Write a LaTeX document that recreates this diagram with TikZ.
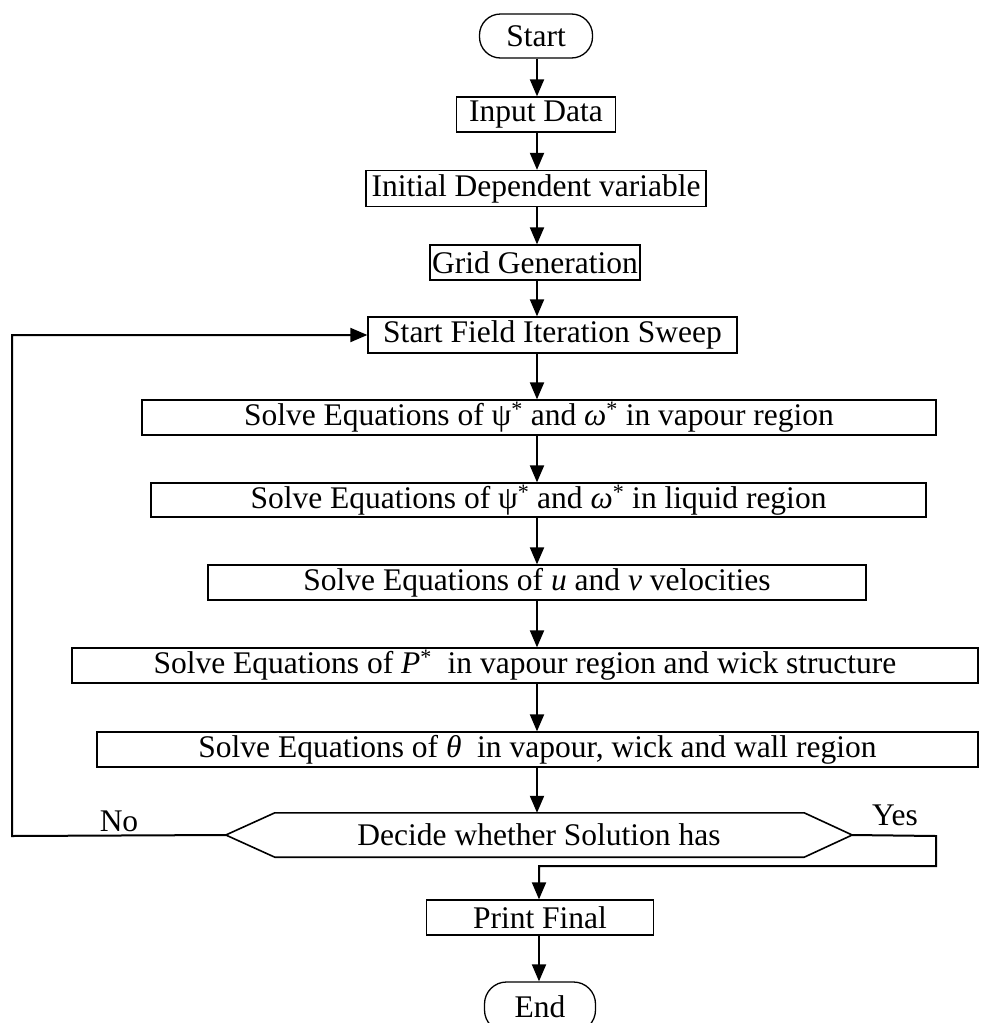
\documentclass[tikz,border=0pt]{standalone}
\usepackage{fontspec}
\setmainfont{Liberation Serif}
\usetikzlibrary{arrows.meta,calc}
\newcommand{\diagfont}{\fontsize{31.5}{36}\selectfont}
\begin{document}
\begin{tikzpicture}[x=1pt,y=-1pt,
  box/.style={draw,line width=1.3pt,inner sep=0pt,font=\diagfont},
  term/.style={box,rounded corners=21pt},
  lbl/.style={inner sep=0pt,font=\diagfont},
  arr/.style={line width=2pt,-{Triangle[length=17pt,width=14pt]}},
  ln/.style={line width=2pt}]
\useasboundingbox (0,0) rectangle (993,1023);
\coordinate (ax) at (537,0);
\node[term, minimum width=113pt, minimum height=44pt] (start) at (536,36) {Start};
\node[box, minimum width=159pt, minimum height=35pt] (input) at (536,114.5) {Input Data};
\node[box, minimum width=340pt, minimum height=36pt] (init) at (536,188.5) {Initial Dependent variable};
\node[box, minimum width=210pt, minimum height=35pt] (grid) at (535,262.5) {Grid Generation};
\node[box, minimum width=369pt, minimum height=36pt] (sweep) at (552.5,335) {Start Field Iteration Sweep};
\node[box, minimum width=794pt, minimum height=35pt] (vap) at (539,417.5) {Solve Equations of ψ\textsuperscript{*} and \textit{ω}\textsuperscript{*} in vapour region};
\node[box, minimum width=775pt, minimum height=34pt] (liq) at (538.5,500) {Solve Equations of ψ\textsuperscript{*} and \textit{ω}\textsuperscript{*} in liquid region};
\node[box, minimum width=658pt, minimum height=35pt] (uv) at (537,582.5) {Solve Equations of \textit{u} and \textit{v} velocities};
\node[box, minimum width=906pt, minimum height=35pt] (pstar) at (525,665.5) {Solve Equations of \textit{P}\textsuperscript{*}\ \ in vapour region and wick structure};
\node[box, minimum width=881pt, minimum height=35pt] (theta) at (537.5,749.5) {Solve Equations of \textit{θ}\ \ in vapour, wick and wall region};
% decision
\node[lbl, minimum width=626pt, minimum height=44pt] (dec) at (539,835) {Decide whether Solution has};
\coordinate (decL) at (dec.west);
\coordinate (decR) at (dec.east);
\coordinate (decTL) at ($(dec.north west)+(49,0)$);
\coordinate (decTR) at ($(dec.north east)+(-48,0)$);
\coordinate (decBL) at ($(dec.south west)+(49,0)$);
\coordinate (decBR) at ($(dec.south east)+(-48,0)$);
\draw[line width=1.6pt] (decL) -- (decTL) -- (decTR) -- (decR) -- (decBR) -- (decBL) -- cycle;
\node[box, minimum width=227pt, minimum height=35pt] (print) at (540,917.5) {Print Final};
\node[term, minimum width=111pt, minimum height=50pt, rounded corners=22pt] (end) at (540,1007) {End};
% labels
\node[lbl] (no) at (119,821) {No};
\node[lbl] (yes) at (895,815) {Yes};
% connectors
\draw[arr] (start.south -| ax) -- (input.north -| ax);
\draw[arr] (input.south -| ax) -- (init.north -| ax);
\draw[arr] (init.south -| ax) -- (grid.north -| ax);
\draw[arr] (grid.south -| ax) -- (sweep.north -| ax);
\draw[arr] (sweep.south -| ax) -- (vap.north -| ax);
\draw[arr] (vap.south -| ax) -- (liq.north -| ax);
\draw[arr] (liq.south -| ax) -- (uv.north -| ax);
\draw[arr] (uv.south -| ax) -- (pstar.north -| ax);
\draw[arr] (pstar.south -| ax) -- (theta.north -| ax);
\draw[arr] (theta.south -| ax) -- (decTL -| ax);
\coordinate (fb) at (12,836);
\draw[arr] (decL) -- (fb) |- (sweep.west);
\coordinate (yA) at (936,836);
\coordinate (yB) at (936,866);
\coordinate (yC) at (539,866);
\draw[arr] (decR) -- (yA) -- (yB) -- (yC) -- (print.north -| yC);
\draw[arr] (print.south -| yC) -- (end.north -| yC);
\end{tikzpicture}
\end{document}
